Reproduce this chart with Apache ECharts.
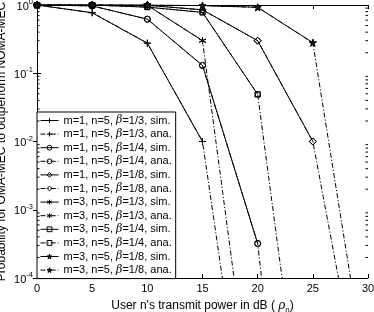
<!DOCTYPE html>
<html>
<head>
<meta charset="utf-8">
<script src="https://cdn.jsdelivr.net/npm/echarts@6/dist/echarts.min.js"></script>
<style>html,body{margin:0;padding:0;background:#fff}#c{width:374px;height:312px}</style>
</head>
<body>
<div id="c"></div>
<script>
// x positions (dB)
const xValues = [0, 5, 10, 15, 20, 25, 30];
// series names
const seriesNames = [
  'm=1, n=5, β=1/3, sim.', 'm=1, n=5, β=1/3, ana.',
  'm=1, n=5, β=1/4, sim.', 'm=1, n=5, β=1/4, ana.',
  'm=1, n=5, β=1/8, sim.', 'm=1, n=5, β=1/8, ana.',
  'm=3, n=5, β=1/3, sim.', 'm=3, n=5, β=1/3, ana.',
  'm=3, n=5, β=1/4, sim.', 'm=3, n=5, β=1/4, ana.',
  'm=3, n=5, β=1/8, sim.', 'm=3, n=5, β=1/8, ana.'
];
// values (null = zero, not shown on log axis)
const m1b3Sim = [1, 0.77, 0.276, 0.01, null, null, null];
const m1b3Ana = [1, 0.77, 0.276, 0.01, 2.8e-8, null, null];
const m1b4Sim = [1, 0.97, 0.62, 0.13, 3.2e-4, null, null];
const m1b4Ana = [1, 0.97, 0.62, 0.13, 3.2e-4, 2.5e-11, null];
const m1b8Sim = [1, 1, 0.99, 0.85, 0.3, 0.01, null];
const m1b8Ana = [1, 1, 0.99, 0.85, 0.3, 0.01, 5e-7];
const m3b3Sim = [1, 1, 0.99, 0.3, null, null, null];
const m3b3Ana = [1, 1, 0.99, 0.3, 2.5e-7, null, null];
const m3b4Sim = [1, 1, 0.93, 0.78, 0.049, null, null];
const m3b4Ana = [1, 1, 0.93, 0.78, 0.049, 4e-8, null];
const m3b8Sim = [1, 1, 1, 0.98, 0.925, 0.28, null];
const m3b8Ana = [1, 1, 1, 0.98, 0.925, 0.28, 2.5e-6];
// y tick labels (exponents of 10)
const yExponents = [0, -1, -2, -3, -4];
// log minor tick values
const minorValues = [];
for (let k = -4; k < 0; k++) for (let m = 2; m <= 9; m++) minorValues.push(m * Math.pow(10, k));

const FONT = 'Liberation Sans';
const plusSym = 'path://M5,0L5,10M0,5L10,5';
const astSym = 'path://M5,0L5,10M0.67,2.5L9.33,7.5M0.67,7.5L9.33,2.5';
const starSym = 'path://M5,0L6.18,3.62L10,3.62L6.91,5.86L8.09,9.51L5,7.27L1.91,9.51L3.09,5.86L0,3.62L3.82,3.62Z';

const allData = [m1b3Sim, m1b3Ana, m1b4Sim, m1b4Ana, m1b8Sim, m1b8Ana, m3b3Sim, m3b3Ana, m3b4Sim, m3b4Ana, m3b8Sim, m3b8Ana];
const symbols = [
  {s: plusSym, size: 7, fill: 'rgba(0,0,0,0)', bw: 1},
  {s: 'circle', size: 6, fill: 'rgba(0,0,0,0)', bw: 1},
  {s: 'diamond', size: 7, fill: 'rgba(0,0,0,0)', bw: 1},
  {s: astSym, size: 7, fill: 'rgba(0,0,0,0)', bw: 1},
  {s: 'rect', size: 5, fill: 'rgba(0,0,0,0)', bw: 1},
  {s: starSym, size: 7, fill: '#222', bw: 0.8}
];

const series = allData.map((vals, i) => {
  const sym = symbols[Math.floor(i / 2)];
  const ana = i % 2 === 1;
  return {
    name: seriesNames[i],
    type: 'line',
    data: xValues.map((x, j) => [x, vals[j]]),
    connectNulls: false,
    clip: true,
    symbol: sym.s,
    symbolSize: sym.size,
    showSymbol: true,
    animation: false,
    lineStyle: {color: '#000', width: 1, type: ana ? [5, 2, 1.2, 2] : 'solid'},
    itemStyle: {color: sym.fill, borderColor: '#000', borderWidth: sym.bw},
    emphasis: {disabled: true},
    z: ana ? 3 : 2
  };
});

series.push({
  type: 'custom',
  name: 'minor',
  silent: true,
  animation: false,
  data: minorValues.map(v => [0, v]),
  renderItem: function (params, api) {
    const v = api.value(1);
    const a = api.coord([0, v]);
    const b = api.coord([30, v]);
    return {
      type: 'group',
      children: [
        {type: 'line', shape: {x1: a[0], y1: a[1], x2: a[0] + 2.5, y2: a[1]}, style: {stroke: '#000', lineWidth: 1}},
        {type: 'line', shape: {x1: b[0], y1: b[1], x2: b[0] - 2.5, y2: b[1]}, style: {stroke: '#000', lineWidth: 1}}
      ]
    };
  },
  z: 5
});

function logLabel(v) {
  const e = Math.round(Math.log10(v));
  if (!yExponents.includes(e)) return '';
  return '{b|10}{s|' + e + '}';
}

const chart = echarts.init(document.getElementById('c'), null, {renderer: 'canvas'});
chart.setOption({
  animation: false,
  backgroundColor: '#fff',
  textStyle: {fontFamily: FONT, color: '#000'},
  grid: {left: 37, right: 6, top: 5, bottom: 34, containLabel: false, outerBoundsMode: 'none'},
  legend: {
    data: seriesNames,
    orient: 'vertical',
    left: 37,
    top: 112,
    itemWidth: 18,
    itemHeight: 6,
    itemGap: 0.6,
    padding: [2, 4, 2, 3],
    backgroundColor: '#fff',
    borderColor: '#000',
    borderWidth: 1,
    selectedMode: false,
    itemStyle: {borderWidth: 1},
    lineStyle: {width: 1},
    textStyle: {
      fontFamily: FONT, fontSize: 11, color: '#000', lineHeight: 13,
      rich: {i: {fontFamily: 'DejaVu Serif', fontStyle: 'italic', fontSize: 11, color: '#000'}}
    },
    formatter: n => n.replace('β', '{i|β}')
  },
  xAxis: [{
    type: 'value', min: 0, max: 30, interval: 5,
    name: "User n's transmit power in dB ( {i|ρ}{sub|n})",
    nameLocation: 'middle', nameGap: 20,
    nameTextStyle: {fontFamily: FONT, fontSize: 12, color: '#000',
      rich: {i: {fontFamily: 'DejaVu Serif', fontStyle: 'italic', fontSize: 12, color: '#000'},
             sub: {fontSize: 8, color: '#000', padding: [8, 0, 0, 0], fontFamily: FONT}}},
    axisLine: {show: true, lineStyle: {color: '#000', width: 1}},
    axisTick: {show: true, inside: true, length: 4, lineStyle: {color: '#000'}},
    axisLabel: {fontFamily: FONT, fontSize: 11, color: '#000', margin: 5},
    splitLine: {show: false}
  }, {
    type: 'value', min: 0, max: 30, interval: 5, position: 'top',
    axisLine: {show: true, lineStyle: {color: '#000', width: 1}},
    axisTick: {show: true, inside: true, length: 4, lineStyle: {color: '#000'}},
    axisLabel: {show: false}, splitLine: {show: false}
  }],
  yAxis: [{
    type: 'log', logBase: 10, min: 1e-4, max: 1,
    name: 'Probability for OMA-MEC to outperform NOMA-MEC',
    nameLocation: 'middle', nameGap: 29.5, nameMoveOverlap: false,
    nameTextStyle: {fontFamily: FONT, fontSize: 12, color: '#000'},
    axisLine: {show: true, lineStyle: {color: '#000', width: 1}},
    axisTick: {show: true, inside: true, length: 4, lineStyle: {color: '#000'}},
    axisLabel: {margin: 4, formatter: logLabel, hideOverlap: false,
      rich: {b: {fontFamily: FONT, fontSize: 11, color: '#000', verticalAlign: 'bottom', lineHeight: 14},
             s: {fontFamily: FONT, fontSize: 7.5, color: '#000', verticalAlign: 'top', lineHeight: 14}}},
    splitLine: {show: false}
  }, {
    type: 'log', logBase: 10, min: 1e-4, max: 1, position: 'right',
    axisLine: {show: true, lineStyle: {color: '#000', width: 1}},
    axisTick: {show: true, inside: true, length: 4, lineStyle: {color: '#000'}},
    axisLabel: {show: false}, splitLine: {show: false}
  }],
  series: series
});
</script>
</body>
</html>
